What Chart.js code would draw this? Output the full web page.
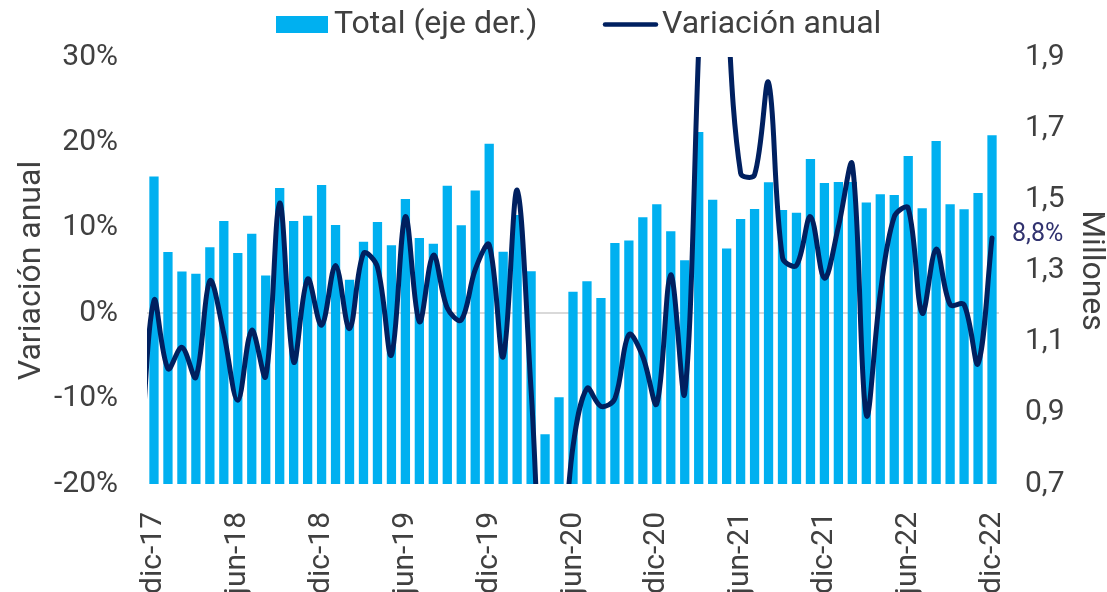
<!DOCTYPE html>
<html>
<head>
<meta charset="utf-8">
<script src="https://cdn.jsdelivr.net/npm/chart.js@4.4.1/dist/chart.umd.min.js"></script>
<style>
html,body{margin:0;padding:0;background:#fff;}
#wrap{width:1107px;height:592px;position:relative;}
</style>
</head>
<body>
<div id="wrap"><canvas id="c"></canvas></div>
<script>
const categorias = [
  'dic-17',
  'ene-18','feb-18','mar-18','abr-18','may-18','jun-18','jul-18','ago-18','sep-18','oct-18','nov-18','dic-18',
  'ene-19','feb-19','mar-19','abr-19','may-19','jun-19','jul-19','ago-19','sep-19','oct-19','nov-19','dic-19',
  'ene-20','feb-20','mar-20','abr-20','may-20','jun-20','jul-20','ago-20','sep-20','oct-20','nov-20','dic-20',
  'ene-21','feb-21','mar-21','abr-21','may-21','jun-21','jul-21','ago-21','sep-21','oct-21','nov-21','dic-21',
  'ene-22','feb-22','mar-22','abr-22','may-22','jun-22','jul-22','ago-22','sep-22','oct-22','nov-22','dic-22'
];
const etiquetasEje = ['dic-17','jun-18','dic-18','jun-19','dic-19','jun-20','dic-20','jun-21','dic-21','jun-22','dic-22'];

// Total (millones, eje derecho)
const totalMillones = [
  1.564,
  1.352, 1.297, 1.291, 1.365, 1.439, 1.349, 1.403, 1.286, 1.532, 1.439, 1.454, 1.540,
  1.428, 1.274, 1.381, 1.436, 1.371, 1.501, 1.391, 1.375, 1.538, 1.427, 1.525, 1.656,
  1.353, 1.456, 1.298, 0.840, 0.944, 1.240, 1.270, 1.223, 1.377, 1.384, 1.450, 1.486,
  1.410, 1.329, 1.689, 1.499, 1.362, 1.445, 1.473, 1.548, 1.470, 1.462, 1.613, 1.546,
  1.549, 1.549, 1.491, 1.514, 1.512, 1.622, 1.475, 1.664, 1.486, 1.472, 1.518, 1.680
];

// Variación anual (%), desde nov-17 (fuera del área visible) hasta dic-22
const variacionAnual = [
  -18,
  1.5,
  -6.5, -4.0, -7.5, 3.8, -2.4, -10.2, -2.0, -7.4, 12.9, -5.7, 4.0, -1.4,
  5.6, -1.8, 7.0, 5.4, -4.9, 11.3, -1.0, 6.8, 0.6, -0.8, 5.1, 8.0,
  -5.1, 14.4, -9.0, -35, -32, -15.6, -8.8, -10.9, -10.0, -2.5, -5.1, -10.6,
  4.5, -9.4, 31, 70, 38, 16.4, 16.2, 27, 6.5, 5.6, 11.3, 4.1,
  10.1, 17.4, -11.9, 2.3, 11.3, 12.3, 0.0, 7.5, 1.0, 1.0, -5.9, 8.8
];

const ticksIzq = [-20, -10, 0, 10, 20, 30];
const ticksDer = [0.7, 0.9, 1.1, 1.3, 1.5, 1.7, 1.9];

const COLOR_BARRAS = '#00B0F0';
const COLOR_LINEA = '#002060';
const COLOR_TEXTO = '#404040';

Chart.defaults.font.family = 'Roboto';
Chart.defaults.color = COLOR_TEXTO;

const puntosLinea = variacionAnual.map((v, i) => ({ x: i - 1, y: v }));

const leyendaPlugin = {
  id: 'leyendaPropia',
  afterDraw(chart) {
    const ctx = chart.ctx;
    const ds = chart.data.datasets;
    ctx.save();
    ctx.font = '32px Roboto';
    ctx.textBaseline = 'alphabetic';
    ctx.textAlign = 'left';
    ctx.fillStyle = ds[0].backgroundColor;
    ctx.fillRect(276, 16, 52, 17);
    ctx.fillStyle = COLOR_TEXTO;
    ctx.fillText(ds[0].label, 334, 33);
    ctx.strokeStyle = ds[1].borderColor;
    ctx.lineWidth = 4.5;
    ctx.lineCap = 'round';
    ctx.beginPath();
    ctx.moveTo(605, 24.5);
    ctx.lineTo(656, 24.5);
    ctx.stroke();
    ctx.fillStyle = COLOR_TEXTO;
    ctx.fillText(ds[1].label, 662, 33);
    ctx.restore();
  },
  afterDatasetsDraw(chart) {
    const meta = chart.getDatasetMeta(1);
    const ultimo = meta.data[meta.data.length - 1];
    const valor = variacionAnual[variacionAnual.length - 1];
    const ctx = chart.ctx;
    ctx.save();
    ctx.font = '25px Roboto';
    ctx.fillStyle = '#31326f';
    ctx.textAlign = 'left';
    ctx.textBaseline = 'middle';
    ctx.fillText(valor.toFixed(1).replace('.', ',') + '%', ultimo.x + 20, ultimo.y - 3);
    ctx.restore();
  }
};

new Chart(document.getElementById('c'), {
  type: 'bar',
  data: {
    labels: categorias,
    datasets: [
      {
        type: 'bar',
        label: 'Total (eje der.)',
        data: totalMillones,
        xAxisID: 'x',
        yAxisID: 'y1',
        backgroundColor: COLOR_BARRAS,
        borderWidth: 0,
        grouped: false,
        barPercentage: 0.665,
        categoryPercentage: 1,
        order: 2
      },
      {
        type: 'line',
        label: 'Variación anual',
        data: puntosLinea,
        xAxisID: 'xl',
        yAxisID: 'y',
        borderColor: COLOR_LINEA,
        backgroundColor: COLOR_LINEA,
        borderWidth: 5,
        pointRadius: 0,
        tension: 0.35,
        capBezierPoints: false,
        borderCapStyle: 'round',
        borderJoinStyle: 'round',
        fill: false,
        order: 1
      }
    ]
  },
  options: {
    responsive: true,
    maintainAspectRatio: false,
    animation: false,
    layout: { padding: { top: 57, left: 0, right: 0, bottom: 0 } },
    plugins: {
      legend: { display: false },
      tooltip: { enabled: false }
    },
    scales: {
      x: {
        type: 'category',
        position: 'bottom',
        offset: true,
        grid: { display: false },
        border: { display: false },
        ticks: {
          font: { size: 30 },
          color: COLOR_TEXTO,
          minRotation: 90,
          maxRotation: 90,
          autoSkip: false,
          padding: 20,
          callback: function (v, i) {
            const c = categorias[i];
            return etiquetasEje.includes(c) ? c : '';
          }
        },
        afterFit: s => { s.height = 108; }
      },
      xl: {
        type: 'linear',
        position: 'bottom',
        display: false,
        min: -0.5,
        max: categorias.length - 0.5,
        offset: false
      },
      y: {
        type: 'linear',
        position: 'left',
        min: -20,
        max: 30,
        afterBuildTicks: s => { s.ticks = ticksIzq.map(v => ({ value: v })); },
        grid: {
          drawTicks: false,
          lineWidth: 2,
          color: c => (c.tick && c.tick.value === 0) ? '#d9d9d9' : 'rgba(0,0,0,0)'
        },
        border: { display: false },
        ticks: {
          font: { size: 30 },
          color: COLOR_TEXTO,
          padding: 29,
          callback: v => v + '%'
        },
        title: {
          display: true,
          text: 'Variación anual',
          color: COLOR_TEXTO,
          font: { size: 32, lineHeight: 1 },
          padding: { top: 16, bottom: 0 }
        },
        afterFit: s => { s.width = 147; }
      },
      y1: {
        type: 'linear',
        position: 'right',
        min: 0.7,
        max: 1.9,
        afterBuildTicks: s => { s.ticks = ticksDer.map(v => ({ value: v })); },
        grid: { display: false, drawTicks: false },
        border: { display: false },
        ticks: {
          font: { size: 30 },
          color: COLOR_TEXTO,
          padding: 26,
          callback: v => v.toFixed(1).replace('.', ',')
        },
        title: {
          display: true,
          text: 'Millones',
          color: COLOR_TEXTO,
          font: { size: 32, lineHeight: 1 },
          padding: { top: 0, bottom: 0 }
        },
        afterFit: s => { s.width = 108; }
      }
    }
  },
  plugins: [leyendaPlugin]
});
</script>
</body>
</html>
